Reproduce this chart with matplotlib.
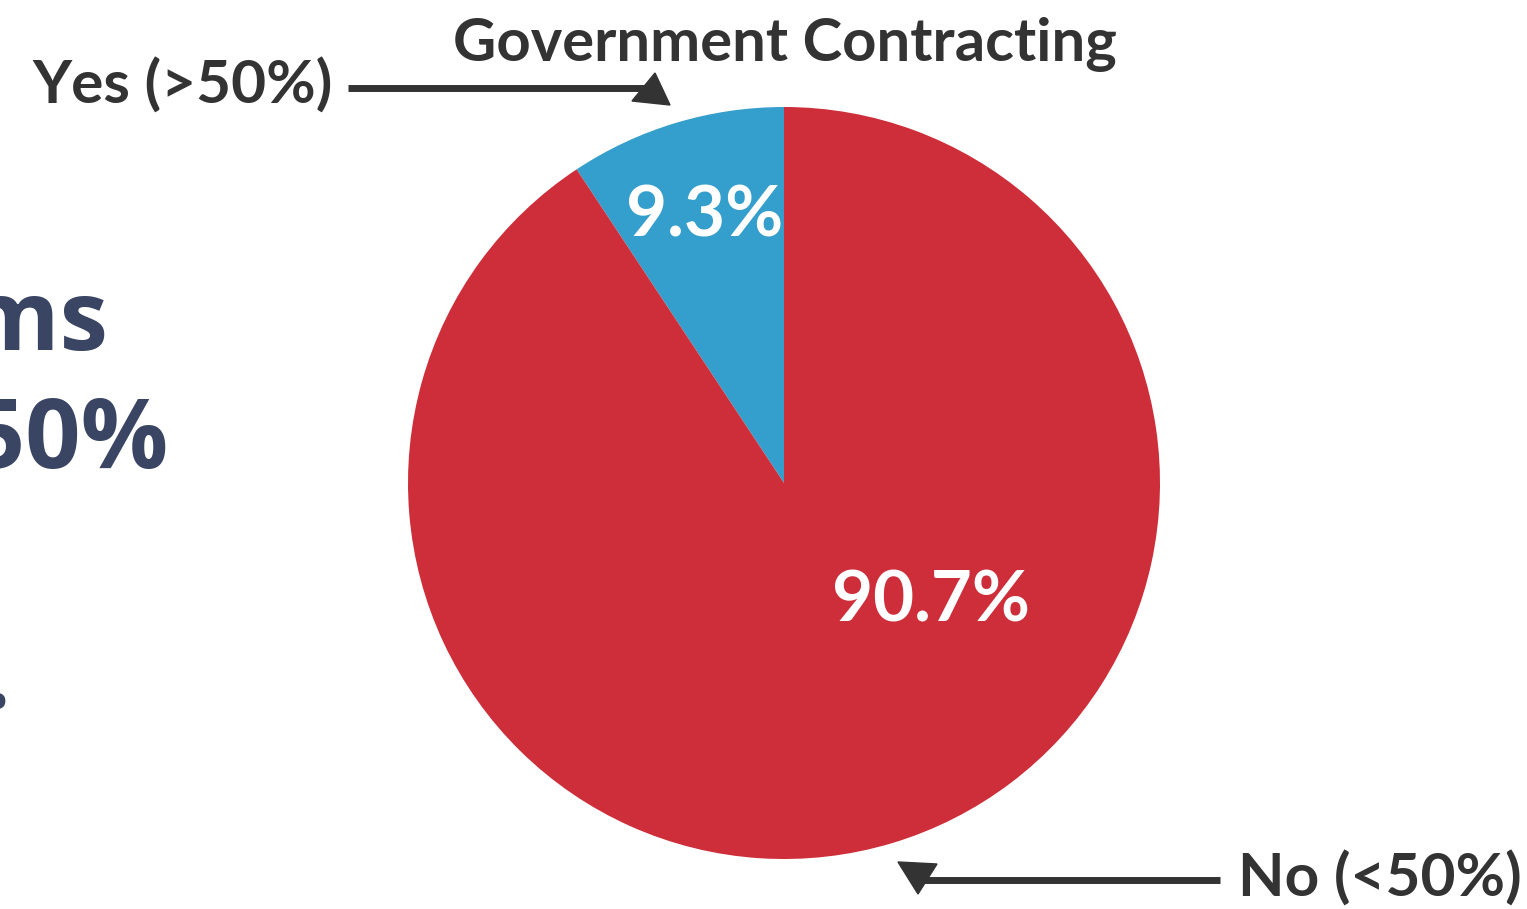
import matplotlib
matplotlib.use("Agg")
import matplotlib.pyplot as plt
from matplotlib.lines import Line2D
from matplotlib.patches import Polygon

W, H = 1527, 909
title = "Government Contracting"
categories = ["Yes (>50%)", "No (<50%)"]
values = [9.3, 90.7]
pct_labels = ["9.3%", "90.7%"]
colors = ["#349FCC", "#CD2E39"]
side_text = ["Firms", "Over 50%", "Inc."]

fig = plt.figure(figsize=(W / 100, H / 100), dpi=100)
fig.patch.set_facecolor("white")

def fx(x):
    return x / W

def fy(y):
    return 1 - y / H

cx, cy, r = 784, 483, 376
ax = fig.add_axes([fx(cx - r), fy(cy + r), 2 * r / W, 2 * r / H])
ax.pie(values, colors=colors, startangle=90, counterclock=True,
       radius=1.0, wedgeprops=dict(linewidth=0))
ax.set_xlim(-1, 1)
ax.set_ylim(-1, 1)
ax.set_aspect("auto")
ax.axis("off")

# percent labels
ax.text(-0.21, 0.71, pct_labels[0], color="white", fontsize=51,
        fontweight="bold", family="Lato", ha="center", va="center")
ax.text(0.39, -0.315, pct_labels[1], color="white", fontsize=51,
        fontweight="bold", family="Lato", ha="center", va="center")

dark = "#333333"
fig.text(fx(785), fy(44), title, color=dark, fontsize=43, fontweight="bold",
         family="Lato", ha="center", va="center")
fig.text(fx(333), fy(86), categories[0], color=dark, fontsize=43.5,
         fontweight="bold", family="Lato", ha="right", va="center")
fig.text(fx(1238), fy(879), categories[1], color=dark, fontsize=43.5,
         fontweight="bold", family="Lato", ha="left", va="center")

# arrows
fig.add_artist(Line2D([fx(348), fx(645)], [fy(88), fy(88)], color=dark, lw=5,
                      transform=fig.transFigure, solid_capstyle="butt"))
fig.add_artist(Polygon([[fx(632), fy(101)], [fx(655), fy(73)], [fx(670), fy(105)]],
                       closed=True, color=dark, transform=fig.transFigure))
fig.add_artist(Line2D([fx(920), fx(1220)], [fy(880), fy(880)], color=dark, lw=5,
                      transform=fig.transFigure, solid_capstyle="butt"))
fig.add_artist(Polygon([[fx(898), fy(862)], [fx(937), fy(864)], [fx(918), fy(894)]],
                       closed=True, color=dark, transform=fig.transFigure))

# clipped side text
navy = "#394562"
fig.text(fx(108), fy(350), side_text[0], color=navy, fontsize=70,
         fontweight="bold", family="Open Sans", ha="right", va="baseline")
fig.text(fx(168), fy(468), side_text[1], color=navy, fontsize=70,
         fontweight="bold", family="Open Sans", ha="right", va="baseline")
fig.text(fx(11), fy(708), side_text[2], color=navy, fontsize=70,
         fontweight="bold", family="Open Sans", ha="right", va="baseline")

fig.savefig("out.png", dpi=100, facecolor="white")
